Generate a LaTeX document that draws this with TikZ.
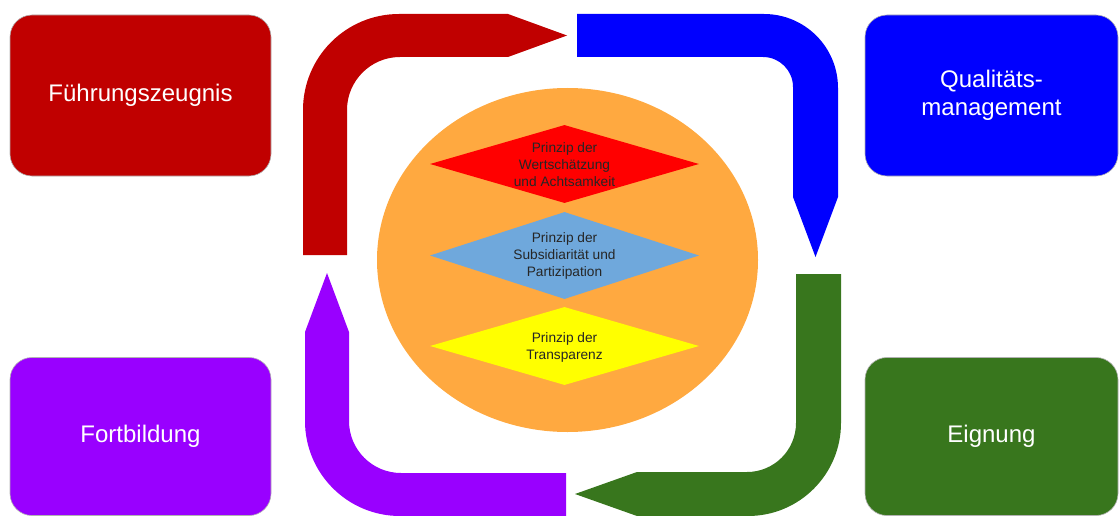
\documentclass[tikz,border=0pt]{standalone}
\usepackage{fontspec}
\setmainfont{Liberation Sans}
\usetikzlibrary{shapes.geometric}
\definecolor{cRed}{HTML}{C00000}
\definecolor{cBlue}{HTML}{0000FF}
\definecolor{cPurple}{HTML}{9900FF}
\definecolor{cGreen}{HTML}{38761D}
\definecolor{cOrange}{HTML}{FFA940}
\definecolor{cSky}{HTML}{6FA8DC}
\definecolor{cYellow}{HTML}{FFFF00}
\definecolor{cDiaRed}{HTML}{FF0000}
\begin{document}
\begin{tikzpicture}[x=1pt,y=-1pt,
  box/.style={rectangle, rounded corners=22pt, minimum width=261pt, minimum height=161pt,
    draw=black!30, line width=0.6pt, text=white, align=center, inner sep=0pt,
    font=\fontsize{24}{28}\selectfont},
  dia/.style={diamond, inner sep=0pt, minimum width=269pt, minimum height=#1},
  lbl/.style={align=center, inner sep=0pt, text=black!85, font=\fontsize{13.7}{17}\selectfont}]
\useasboundingbox (0,0) rectangle (1119,516);

% boxes
\node[box, fill=cRed] (fz) at (140.5,95.5) {Führungszeugnis};
\node[box, fill=cBlue, minimum width=253pt] (qm) at (991.5,95.5) {Qualitäts-\\management};
\node[box, fill=cPurple, minimum height=158pt] (fb) at (140.5,436.5) {Fortbildung};
\node[box, fill=cGreen, minimum width=253pt, minimum height=158pt] (eg) at (991.5,436.5) {Eignung};

% curved arrows
\fill[cRed] (303,255) -- (303,110) arc[start angle=180, end angle=270, radius=96]
  -- (508,14) -- (567,35.5) -- (508,57) -- (400,57)
  arc[start angle=270, end angle=180, radius=53] -- (347,255) -- cycle;
\fill[cBlue] (577,14) -- (764,14) arc[start angle=270, end angle=360, radius=74]
  -- (838,197) -- (815.5,257) -- (793,197) -- (793,87)
  arc[start angle=0, end angle=-90, radius=30] -- (577,57) -- cycle;
\fill[cGreen] (796,274) -- (841,274) -- (841,423) arc[start angle=0, end angle=90, radius=93]
  -- (637,516) -- (575,494) -- (637,472) -- (747,472)
  arc[start angle=90, end angle=0, radius=49] -- cycle;
\fill[cPurple] (566,473) -- (401,473) arc[start angle=90, end angle=180, radius=52]
  -- (349,332) -- (327,273) -- (305,332) -- (305,421)
  arc[start angle=180, end angle=90, radius=95] -- (566,516) -- cycle;

% centre
\node[ellipse, fill=cOrange, minimum width=381pt, minimum height=344pt, inner sep=0pt] (core) at (567.5,260) {};
\node[dia=78pt, fill=cDiaRed] (dw) at (564.5,164) {};
\node[dia=87pt, fill=cSky] (ds) at (564.5,255.5) {};
\node[dia=78pt, fill=cYellow] (dt) at (564.5,346) {};
\node[lbl] (tw) at (564.5,165) {Prinzip der\\Wertschätzung\\und Achtsamkeit};
\node[lbl] (ts) at (564.5,255.5) {Prinzip der\\Subsidiarität und\\Partizipation};
\node[lbl] (tt) at (564.5,347) {Prinzip der\\Transparenz};
\end{tikzpicture}
\end{document}
